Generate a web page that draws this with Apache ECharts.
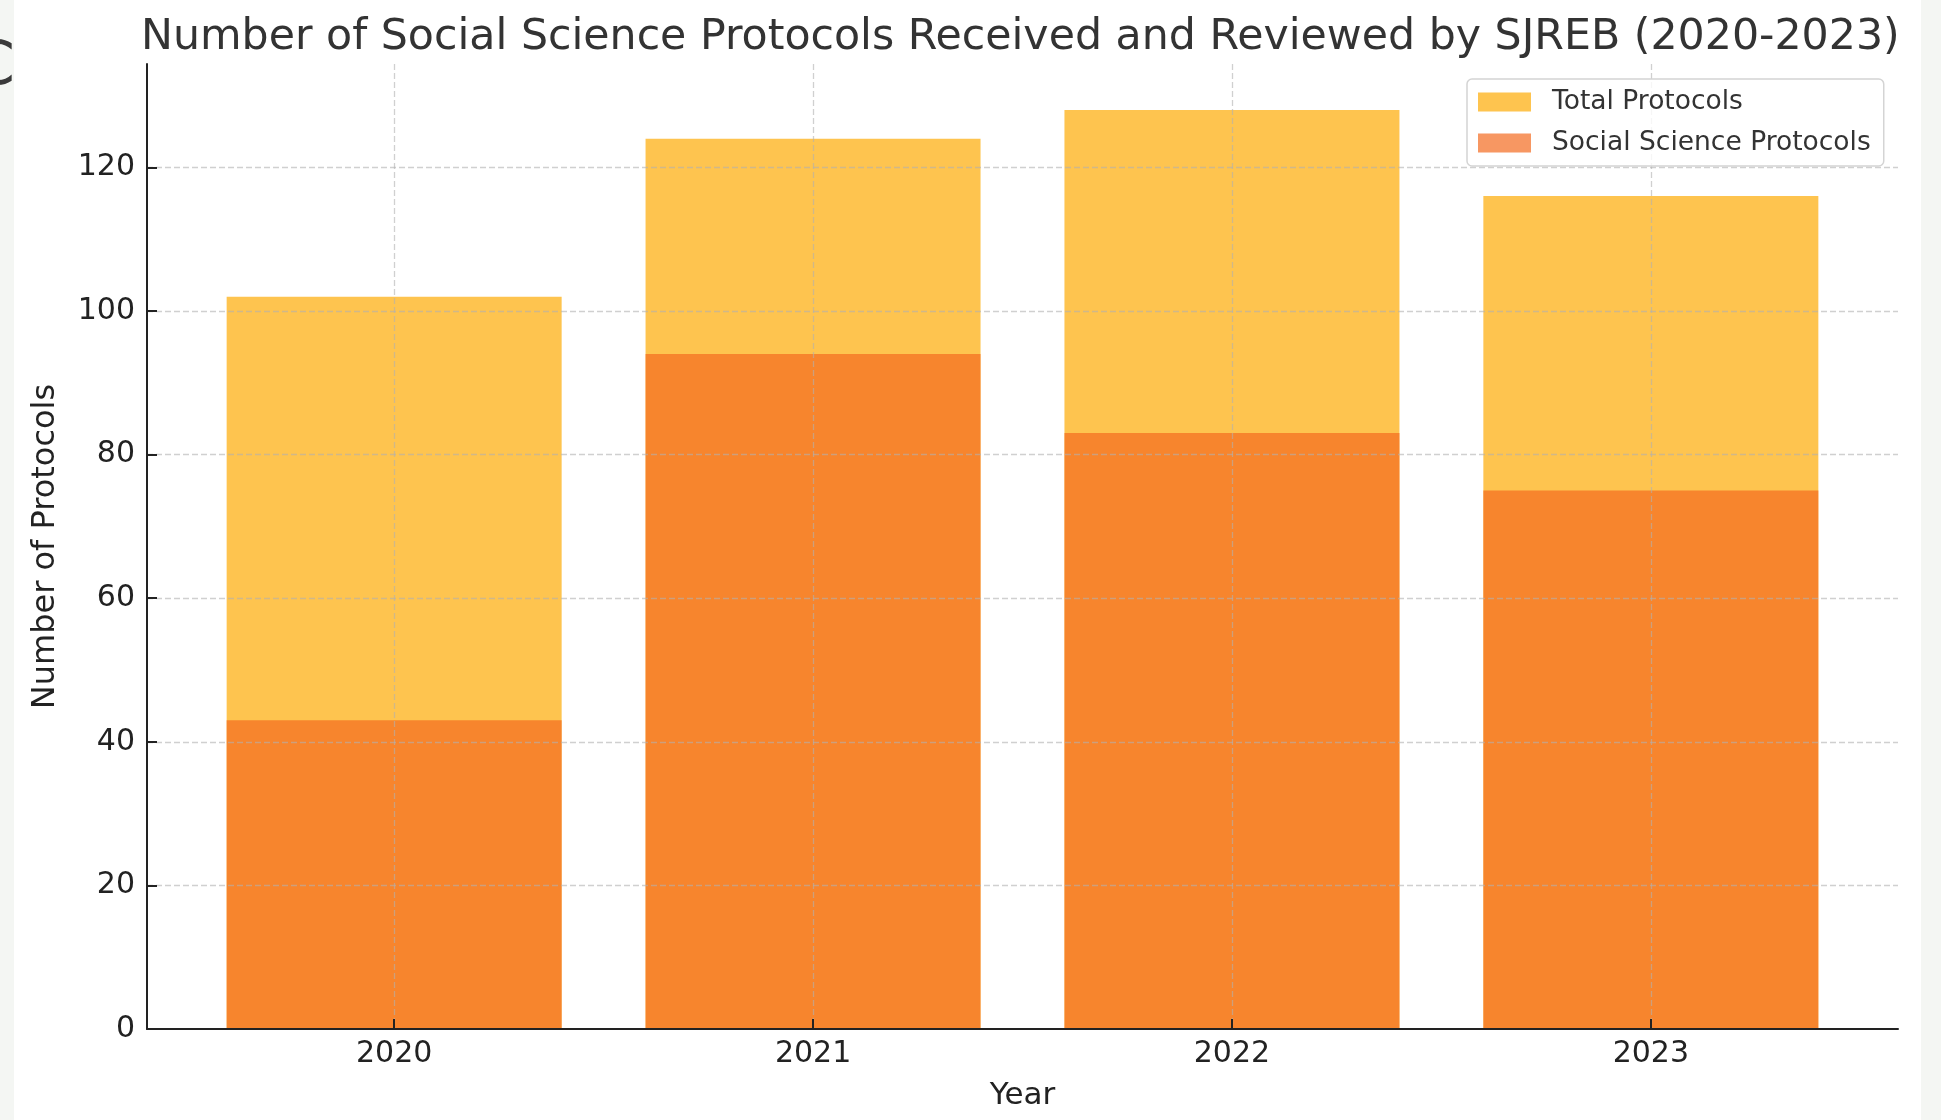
<!DOCTYPE html>
<html>
<head>
<meta charset="utf-8">
<script src="https://cdn.jsdelivr.net/npm/echarts@6/dist/echarts.min.js"></script>
<style>
html,body{margin:0;padding:0;background:#fff;}
#chart{width:1941px;height:1120px;}
</style>
</head>
<body>
<div id="chart"></div>
<script>
const years = ['2020', '2021', '2022', '2023'];
const totalProtocols = [102, 124, 128, 116];
const socialScienceProtocols = [43, 94, 83, 75];
const yTicks = [0, 20, 40, 60, 80, 100, 120];
const xPositions = [0, 1, 2, 3];

const FONT = 'DejaVu Sans';
const chart = echarts.init(document.getElementById('chart'));

const option = {
  backgroundColor: '#ffffff',
  animation: false,
  title: {
    text: 'Number of Social Science Protocols Received and Reviewed by SJREB (2020-2023)',
    left: 141,
    top: 16,
    padding: 0,
    textStyle: { fontFamily: FONT, fontSize: 42.7, fontWeight: 'normal', color: '#333333', lineHeight: 43 }
  },
  legend: {
    data: ['Total Protocols', 'Social Science Protocols'],
    orient: 'vertical',
    left: 1467,
    top: 79,
    padding: [8, 13, 8, 11],
    itemWidth: 53,
    itemHeight: 19,
    itemGap: 11,
    icon: 'rect',
    backgroundColor: 'rgba(255,255,255,0.8)',
    borderColor: '#d4d4d4',
    borderWidth: 1.5,
    borderRadius: 5,
    z: 10,
    textStyle: { fontFamily: FONT, fontSize: 26.5, color: '#333333', lineHeight: 30, padding: [0, 0, 0, 16] }
  },
  grid: { left: 147, right: 43, top: 64, bottom: 91, containLabel: false },
  xAxis: {
    type: 'value',
    min: -0.59,
    max: 3.59,
    z: 5,
    name: 'Year',
    nameLocation: 'middle',
    nameGap: 51,
    nameTextStyle: { fontFamily: FONT, fontSize: 31, color: '#222222' },
    axisLine: { show: true, onZero: false, lineStyle: { color: '#222222', width: 2 } },
    axisTick: { show: true, inside: true, length: 10, customValues: xPositions, lineStyle: { color: '#222222', width: 2 } },
    axisLabel: {
      customValues: xPositions,
      margin: 10,
      fontFamily: FONT, fontSize: 30, color: '#222222',
      formatter: function (v) { return years[Math.round(v)]; }
    },
    splitLine: { show: true, showMinLine: true, showMaxLine: true, lineStyle: { color: 'rgba(176,176,176,0.6)', width: 1.3, type: [6, 3] } }
  },
  yAxis: {
    type: 'value',
    min: 0,
    max: 134.4,
    z: 5,
    name: 'Number of Protocols',
    nameLocation: 'middle',
    nameGap: 85,
    nameTextStyle: { fontFamily: FONT, fontSize: 32, color: '#222222' },
    axisLine: { show: true, onZero: false, lineStyle: { color: '#222222', width: 2 } },
    axisTick: { show: true, inside: true, length: 10, customValues: yTicks, lineStyle: { color: '#222222', width: 2 } },
    axisLabel: { customValues: yTicks, margin: 12, fontFamily: FONT, fontSize: 30, color: '#222222' },
    splitLine: { show: true, showMinLine: false, showMaxLine: true, lineStyle: { color: 'rgba(176,176,176,0.6)', width: 1.3, type: [6, 3] } }
  },
  series: [
    {
      name: 'Total Protocols',
      type: 'bar',
      barWidth: 335,
      barGap: '-100%',
      itemStyle: { color: '#FEC44F' },
      data: xPositions.map((x, i) => [x, totalProtocols[i]])
    },
    {
      name: 'Social Science Protocols',
      type: 'bar',
      barWidth: 335,
      barGap: '-100%',
      itemStyle: { color: '#F36B20', opacity: 0.7 },
      data: xPositions.map((x, i) => [x, socialScienceProtocols[i]])
    }
  ],
  graphic: [
    { type: 'rect', left: 0, top: 0, shape: { width: 14, height: 1120 }, style: { fill: '#f4f6f3' }, z: -10 },
    { type: 'rect', left: 1921, top: 0, shape: { width: 20, height: 1120 }, style: { fill: '#f4f6f3' }, z: -10 },
    { type: 'text', x: -27, y: 38, style: { text: 'C', font: '60px "DejaVu Sans"', fill: '#3a3a3a' }, z: 10 }
  ]
};
chart.setOption(option);
</script>
</body>
</html>
